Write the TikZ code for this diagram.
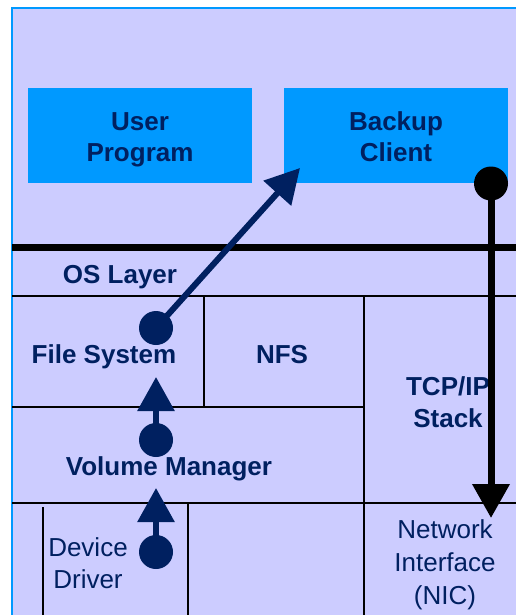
\documentclass[tikz,border=0pt]{standalone}
\usepackage{fontspec}
\setmainfont{Liberation Sans}
\usetikzlibrary{arrows.meta}
\definecolor{lav}{RGB}{204,204,255}
\definecolor{skyb}{RGB}{0,153,255}
\definecolor{navy}{RGB}{0,32,96}
\tikzset{
  bigtxt/.style={font=\fontsize{26}{31.5}\selectfont\bfseries, text=navy, align=center, inner sep=0pt, anchor=base},
  regtxt/.style={font=\fontsize{26}{32}\selectfont, text=navy, align=center, inner sep=0pt, anchor=base},
  appbox/.style={fill=skyb, draw=none, minimum width=224pt, minimum height=95pt, inner sep=0pt},
  cellline/.style={line width=1.5pt, black},
  navydot/.style={circle, fill=navy, minimum size=34pt, inner sep=0pt},
  blackdot/.style={circle, fill=black, minimum size=34pt, inner sep=0pt},
  navyarrow/.style={navy, line width=6pt, -{Triangle[length=34pt,width=36pt]}},
  blackarrow/.style={black, line width=7pt, -{Triangle[length=34pt,width=36pt]}},
}
\begin{document}
\begin{tikzpicture}[x=1pt,y=-1pt]
\useasboundingbox (0,0) rectangle (515,615);
% background panel
\fill[white] (0,0) rectangle (515,615);
\draw[fill=lav, draw=skyb, line width=2pt] (12,8) rectangle (530,630);
% application boxes
\node[appbox] (user) at (140,135.5) {};
\node[appbox] (backup) at (396,135.5) {};
\node[bigtxt] (usertxt) at (140,161.5) {User\\Program};
\node[bigtxt] (backuptxt) at (396,161.5) {Backup\\Client};
% OS separator
\draw[line width=7pt, black] (12,247.5) -- (520,247.5);
% cell lines
\draw[cellline] (12,296) -- (520,296);
\draw[cellline] (204,296) -- (204,407);
\draw[cellline] (364,296) -- (364,620);
\draw[cellline] (12,407) -- (364,407);
\draw[cellline] (12,503) -- (520,503);
\draw[cellline] (43,507) -- (43,620);
\draw[cellline] (188,503) -- (188,620);
% labels
\node[bigtxt] (os) at (120,283) {OS Layer};
\node[bigtxt] (fs) at (104,363) {File System};
\node[bigtxt] (nfs) at (282,363) {NFS};
\node[bigtxt, font=\fontsize{26}{32}\selectfont\bfseries] (tcp) at (448,427) {TCP/IP\\Stack};
\node[bigtxt] (vm) at (169,475) {Volume Manager};
\node[regtxt, font=\fontsize{26}{32}\selectfont] (dd) at (88,588) {Device\\Driver};
\node[regtxt, font=\fontsize{26}{33}\selectfont] (nic) at (445,604) {Network\\Interface\\(NIC)};
% dots
\node[navydot] (d1) at (156,328) {};
\node[navydot] (d2) at (156,440) {};
\node[navydot] (d3) at (156,552) {};
\node[blackdot] (d4) at (491,183.5) {};
\coordinate (t1) at (300,168);
\coordinate (t2) at (156,377);
\coordinate (t3) at (156,488);
\coordinate (t4) at (491,518);
% arrows
\draw[navyarrow] (d1.center) -- (t1);
\draw[navyarrow] (d2.center) -- (t2);
\draw[navyarrow] (d3.center) -- (t3);
\draw[blackarrow] (d4.center) -- (t4);
\end{tikzpicture}
\end{document}
